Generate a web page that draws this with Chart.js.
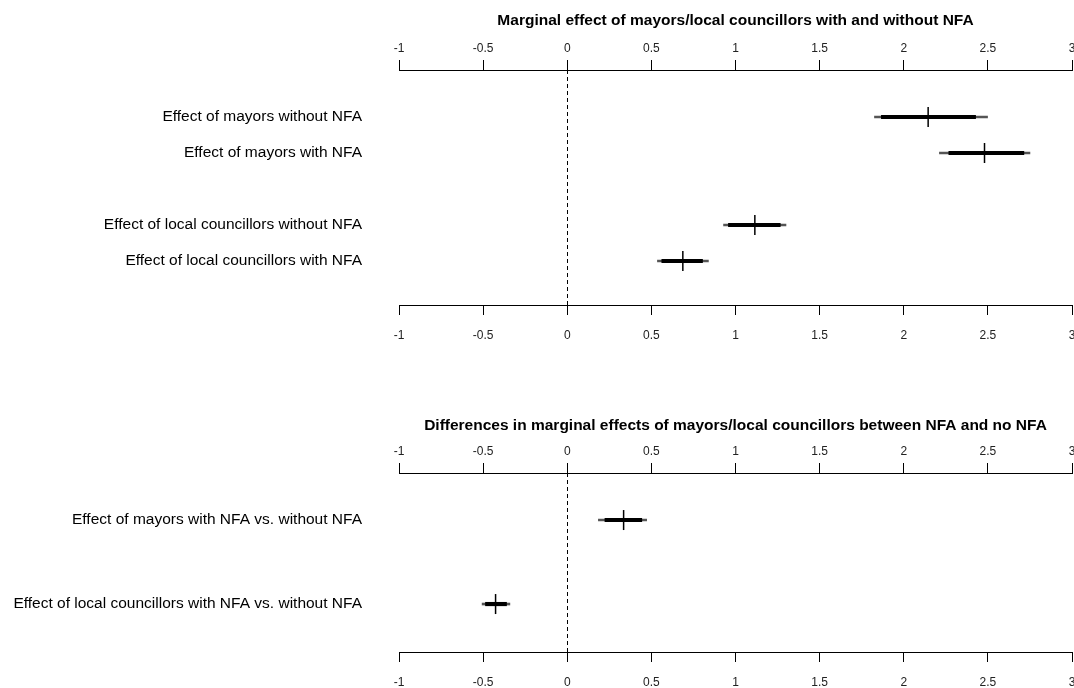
<!DOCTYPE html>
<html>
<head>
<meta charset="utf-8">
<script src="https://cdn.jsdelivr.net/npm/chart.js@4/dist/chart.umd.min.js"></script>
<style>
  html, body { margin: 0; padding: 0; background: #fff; }
  #wrap { position: relative; width: 1074px; height: 688px; }
  #wrap canvas { position: absolute; left: 0; }
</style>
</head>
<body>
<div id="wrap">
  <canvas id="painel1" width="1074" height="360" style="top:0"></canvas>
  <canvas id="painel2" width="1074" height="328" style="top:360px"></canvas>
</div>
<script>
// eixo x comum aos dois paineis
const ticksX = [-1, -0.5, 0, 0.5, 1, 1.5, 2, 2.5, 3];

// painel 1
const rotulos1 = [
    'Effect of mayors without NFA',
    'Effect of mayors with NFA',
    'Effect of local councillors without NFA',
    'Effect of local councillors with NFA'
];
const linhas1 = [1, 2, 4, 5];
const efeito1 = [2.145, 2.48, 1.115, 0.687];
const inf95_1 = [1.826, 2.212, 0.929, 0.536];
const sup95_1 = [2.498, 2.75, 1.30, 0.839];
const inf90_1 = [1.867, 2.268, 0.958, 0.562];
const sup90_1 = [2.427, 2.714, 1.266, 0.804];

// painel 2
const rotulos2 = [
    'Effect of mayors with NFA vs. without NFA',
    'Effect of local councillors with NFA vs. without NFA'
];
const linhas2 = [1, 2];
const efeito2 = [0.335, -0.426];
const inf95_2 = [0.185, -0.506];
const sup95_2 = [0.472, -0.341];
const inf90_2 = [0.224, -0.486];
const sup90_2 = [0.443, -0.361];

Chart.defaults.font.family = '"Liberation Sans", Arial, sans-serif';
Chart.defaults.color = '#000';

const linhaZero = {
    id: 'linhaZero',
    beforeDatasetsDraw(chart) {
        const { ctx, chartArea, scales } = chart;
        const x = Math.round(scales.x.getPixelForValue(0)) + 0.5;
        ctx.save();
        ctx.strokeStyle = '#000';
        ctx.lineWidth = 1;
        ctx.setLineDash([4, 3]);
        ctx.beginPath();
        ctx.moveTo(x, chartArea.top);
        ctx.lineTo(x, chartArea.bottom);
        ctx.stroke();
        ctx.restore();
    }
};

function eixoX(posicao, espaco, altura) {
    return {
        type: 'linear',
        position: posicao,
        min: -1,
        max: 3,
        offset: false,
        afterBuildTicks: s => { s.ticks = ticksX.map(v => ({ value: v })); },
        afterFit: s => { s.paddingLeft = 0; s.paddingRight = 2; s.height = altura; },
        ticks: {
            autoSkip: false,
            maxRotation: 0,
            padding: espaco,
            color: '#222',
            font: { size: 12 },
            callback: v => String(v)
        },
        grid: { offset: false, drawOnChartArea: false, drawTicks: true, tickLength: 10, color: '#000' },
        border: { display: true, color: '#000', width: 1 }
    };
}

function grafico(id, titulo, rotulos, linhas, efeito, inf95, sup95, inf90, sup90, yMin, yMax, tituloTopo, alturaTopo, alturaBase) {
    return new Chart(document.getElementById(id).getContext('2d'), {
        type: 'bar',
        data: {
            datasets: [
                {
                    type: 'scatter',
                    data: linhas.map((r, i) => ({ x: efeito[i], y: r })),
                    pointStyle: 'line',
                    rotation: 90,
                    radius: 10,
                    borderColor: '#000',
                    borderWidth: 1.5,
                    xAxisID: 'x',
                    yAxisID: 'y',
                    order: 1
                },
                {
                    type: 'bar',
                    indexAxis: 'y',
                    data: linhas.map((r, i) => ({ y: r, x: [inf90[i], sup90[i]] })),
                    backgroundColor: '#000',
                    barThickness: 3.5,
                    grouped: false,
                    xAxisID: 'x',
                    yAxisID: 'y',
                    order: 2
                },
                {
                    type: 'bar',
                    indexAxis: 'y',
                    data: linhas.map((r, i) => ({ y: r, x: [inf95[i], sup95[i]] })),
                    backgroundColor: '#555',
                    barThickness: 2,
                    grouped: false,
                    xAxisID: 'x',
                    yAxisID: 'y',
                    order: 3
                }
            ]
        },
        options: {
            responsive: false,
            animation: false,
            layout: { padding: 0, autoPadding: false },
            scales: {
                x: eixoX('bottom', 13, alturaBase),
                x2: eixoX('top', 4, alturaTopo),
                y: {
                    type: 'linear',
                    reverse: true,
                    min: yMin,
                    max: yMax,
                    offset: false,
                    afterBuildTicks: s => { s.ticks = linhas.map(v => ({ value: v })); },
                    afterFit: s => { s.width = 399; s.paddingTop = 0; s.paddingBottom = 0; },
                    ticks: {
                        autoSkip: false,
                        padding: 37,
                        color: '#000',
                        font: { size: 15.5 },
                        callback: (v, i) => rotulos[i]
                    },
                    grid: { offset: false, display: false, drawTicks: false },
                    border: { display: false }
                }
            },
            plugins: {
                legend: { display: false },
                tooltip: { enabled: false },
                title: {
                    display: true,
                    text: titulo,
                    fullSize: false,
                    color: '#000',
                    font: { size: 15.5, weight: 'bold' },
                    padding: { top: tituloTopo, bottom: 0 }
                }
            }
        },
        plugins: [linhaZero]
    });
}

// titulo ~ 18.6px de altura de linha
grafico('painel1', 'Marginal effect of mayors/local councillors with and without NFA',
    rotulos1, linhas1, efeito1, inf95_1, sup95_1, inf90_1, sup90_1,
    -0.306, 6.222, 11, 70 - 11 - 18.6, 360 - 305);

grafico('painel2', 'Differences in marginal effects of mayors/local councillors between NFA and no NFA',
    rotulos2, linhas2, efeito2, inf95_2, sup95_2, inf90_2, sup90_2,
    0.44, 2.571, 56, 113 - 56 - 18.6, 328 - 292);
</script>
</body>
</html>
